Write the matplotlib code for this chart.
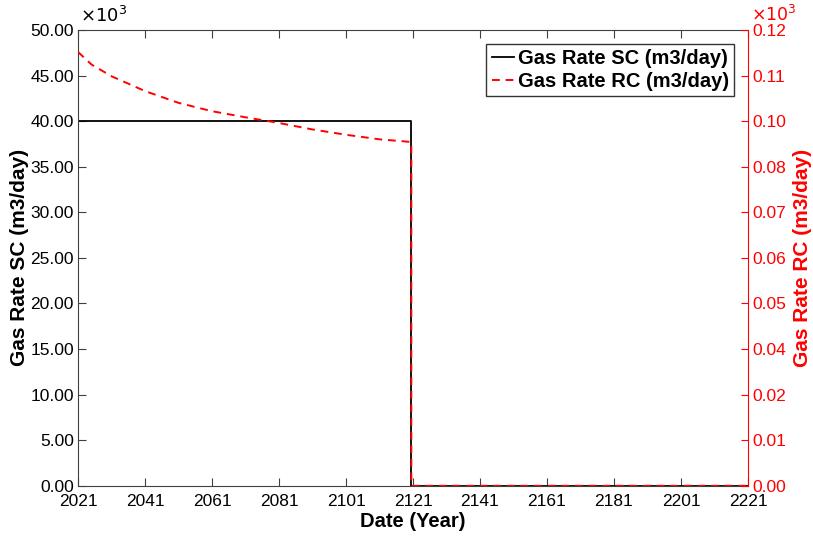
import numpy as np
import matplotlib.pyplot as plt

plt.rcParams['font.family'] = ['Liberation Sans', 'DejaVu Sans']

# gas rate at surface conditions (x10^3 m3/day)
sc_year = [2021, 2120.5, 2120.5, 2221]
sc_rate = [40.0, 40.0, 0.0, 0.0]

# gas rate at reservoir conditions (x10^3 m3/day)
rc_year = [2021, 2025, 2031, 2041, 2051, 2061, 2071, 2081, 2091, 2101, 2111, 2120.5, 2120.5, 2221]
rc_rate = [0.1142, 0.1109, 0.1078, 0.1039, 0.1008, 0.0986, 0.0970, 0.0955,
           0.0938, 0.0924, 0.0912, 0.0905, 0.0, 0.0]

xticks = np.arange(2021, 2222, 20)

fig = plt.figure(figsize=(8.13, 5.44), dpi=100)
ax = fig.add_axes([0.096, 0.107, 0.824, 0.838])
ax2 = ax.twinx()

l1, = ax.plot(sc_year, sc_rate, color='black', lw=1.3, label='Gas Rate SC (m3/day)')
l2, = ax2.plot(rc_year, rc_rate, color='red', lw=1.4, ls=(0, (4, 3)), label='Gas Rate RC (m3/day)')

gray = '#404040'
ax.set_xlim(2021, 2221)
ax.set_ylim(0, 50)
ax.set_xticks(xticks)
ax.set_yticks(np.arange(0, 50.1, 5))
ax.yaxis.set_major_formatter(plt.FormatStrFormatter('%.2f'))
ax.tick_params(direction='in', length=6, labelsize=12.5, color=gray, top=True, pad=3)
ax.tick_params(axis='x', pad=6)
for s in ['left', 'top', 'bottom']:
    ax.spines[s].set_color(gray)
ax.spines['right'].set_visible(False)

ax2.set_ylim(0, 0.12)
ax2.set_yticks(np.linspace(0, 0.12, 11))
ax2.yaxis.set_major_formatter(plt.FormatStrFormatter('%.2f'))
ax2.tick_params(axis='y', direction='in', length=5, labelsize=12.5, colors='red', pad=3)
ax2.spines['right'].set_color('red')
for s in ['left', 'top', 'bottom']:
    ax2.spines[s].set_visible(False)

ax.set_xlabel('Date (Year)', fontsize=14.5, fontweight='bold', labelpad=2)
ax.set_ylabel('Gas Rate SC (m3/day)', fontsize=15, fontweight='bold', labelpad=1)
ax2.set_ylabel('Gas Rate RC (m3/day)', fontsize=15, fontweight='bold', color='red', labelpad=5)

# scale multipliers
ax.text(0.003, 1.008, r'$\times10^3$', transform=ax.transAxes, fontsize=13, ha='left', va='bottom')
ax2.text(1.005, 1.012, r'$\times10^3$', transform=ax2.transAxes, fontsize=12.5, ha='left', va='bottom', color='red')

leg = ax.legend(handles=[l1, l2], loc='upper right', frameon=True, fancybox=False,
                edgecolor='black', handlelength=1.1, handletextpad=0.2, borderpad=0.25,
                labelspacing=0.2, borderaxespad=0.7, prop={'weight': 'bold', 'size': 14.5})
leg.get_frame().set_linewidth(1.0)

fig.savefig('out.png', dpi=100)
